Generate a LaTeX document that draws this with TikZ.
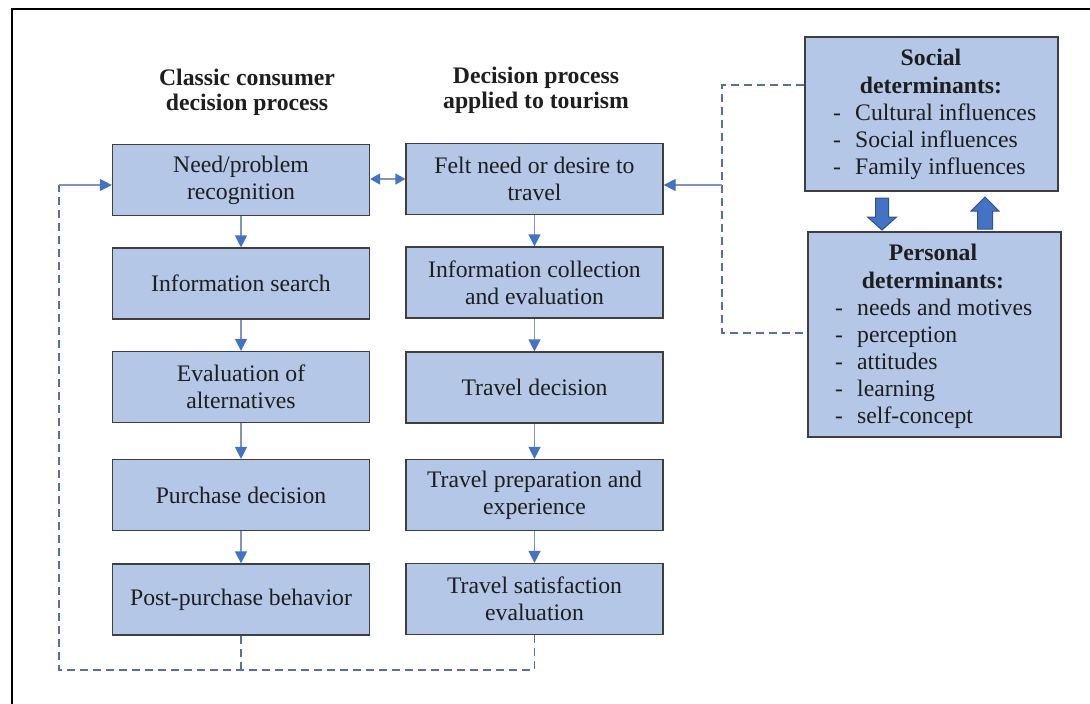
\documentclass[tikz,border=0pt]{standalone}
\usepackage{fontspec}
\setmainfont{Liberation Serif}
\usetikzlibrary{arrows.meta}

\definecolor{boxfill}{HTML}{B4C7E7}
\definecolor{boxedge}{HTML}{3F3F3F}
\definecolor{accent}{HTML}{4472C4}
\definecolor{accentdark}{HTML}{2F528F}
\definecolor{linkline}{HTML}{7F95BF}
\definecolor{dashline}{HTML}{5470A6}
\definecolor{inktext}{HTML}{1E1E1E}

% a list entry that starts with a dash
\newcommand\dashitem{\makebox[22pt][l]{-}}

\begin{document}
\begin{tikzpicture}[x=1pt,y=-1pt,
  every node/.style={text=inktext, font=\fontsize{23.7}{27}\selectfont},
  stagebox/.style={draw=boxedge, fill=boxfill, line width=1.2pt,
    minimum width=257pt, minimum height=71pt, inner sep=0pt, align=center},
  detbox/.style={draw=boxedge, fill=boxfill, line width=1.2pt,
    minimum width=253pt, inner sep=0pt},
  % multi-line texts are placed by the baseline of their last line
  heading/.style={font=\fontsize{23.7}{25}\selectfont\bfseries,
    align=center, anchor=base, inner sep=0pt},
  dethead/.style={font=\fontsize{23.7}{27.5}\selectfont\bfseries,
    align=center, anchor=base, inner sep=0pt},
  listtext/.style={align=left, anchor=base west, inner sep=0pt},
  flow/.style={draw=linkline, line width=1.2pt,
    -{Triangle[width=12pt,length=12pt,color=accent]}},
  twoway/.style={draw=linkline, line width=1.2pt,
    {Triangle[width=11pt,length=10pt,color=accent]}-{Triangle[width=11pt,length=10pt,color=accent]}},
  dashlink/.style={draw=dashline, line width=1.5pt, dash pattern=on 8pt off 5pt},
  blockarrow/.style={fill=accent, draw=accentdark, line width=1pt, line join=miter}
]
\useasboundingbox (0,0) rectangle (1090,704);

% frame
\draw[line width=2pt, black] (11.5,704) -- (11.5,8.5) -- (1090,8.5);

% column headings
\node[heading] (classichd) at (247,110) {Classic consumer\\decision process};
\node[heading] (tourismhd) at (536,108) {Decision process\\applied to tourism};

% classic consumer decision process
\node[stagebox] (need)   at (241,180)   {Need/problem\\recognition};
\node[stagebox] (search) at (241,283.5) {Information search};
\node[stagebox] (alt)    at (241,387)   {Evaluation of\\alternatives};
\node[stagebox] (buy)    at (241,495)   {Purchase decision};
\node[stagebox] (post)   at (241,599.5) {Post-purchase behavior};

% decision process applied to tourism
\node[stagebox] (felt)   at (534.5,179)   {Felt need or desire to\\travel};
\node[stagebox] (collect) at (534.5,282.5) {Information collection\\and evaluation};
\node[stagebox] (tdec)   at (534.5,387.5) {Travel decision};
\node[stagebox] (prep)   at (534.5,495)   {Travel preparation and\\experience};
\node[stagebox] (sat)    at (534.5,599)   {Travel satisfaction\\evaluation};

% determinants
\node[detbox, minimum height=154pt] (social) at (931.5,114) {};
\node[dethead] (socialhd) at (931,93) {Social\\determinants:};
\node[listtext] (sociallist) at (833,174)
  {\dashitem Cultural influences\\\dashitem Social influences\\\dashitem Family influences};

\node[detbox, minimum height=205pt] (personal) at (934.5,334.5) {};
\node[dethead] (personalhd) at (933,288) {Personal\\determinants:};
\node[listtext] (personallist) at (835,423)
  {\dashitem needs and motives\\\dashitem perception\\\dashitem attitudes\\\dashitem learning\\\dashitem self-concept};

% stage sequences
\draw[flow] (need) -- (search);
\draw[flow] (search) -- (alt);
\draw[flow] (alt) -- (buy);
\draw[flow] (buy) -- (post);
\draw[flow] (felt) -- (collect);
\draw[flow] (collect) -- (tdec);
\draw[flow] (tdec) -- (prep);
\draw[flow] (prep) -- (sat);
\draw[twoway] (need.east |- 0,179) -- (felt.west |- 0,179);

% feedback loop back to the first stage
\coordinate (loopbase) at (59,670);
\coordinate (loopleft) at (59,185);
\draw[dashlink] (sat.south) |- (loopbase) -- (loopleft);
\draw[dashlink] (post.south) -- (post.south |- loopbase);
\draw[flow] (loopleft) -- (need.west |- loopleft);

% determinants feeding the felt need
\coordinate (brtop) at (722,85);
\coordinate (brbot) at (722,333);
\coordinate (brmid) at (722,185);
\draw[dashlink] (social.west |- brtop) -- (brtop) -- (brbot) -- (personal.west |- brbot);
\draw[flow] (brmid) -- (felt.east |- brmid);

% mutual influence between social and personal determinants
\filldraw[blockarrow] (875.5,198) -- (888.5,198) -- (888.5,217) -- (896.5,217)
  -- (882,230) -- (867.5,217) -- (875.5,217) -- cycle;
\filldraw[blockarrow] (977.5,229) -- (992.5,229) -- (992.5,211) -- (999,211)
  -- (985,197) -- (971,211) -- (977.5,211) -- cycle;
\end{tikzpicture}
\end{document}
